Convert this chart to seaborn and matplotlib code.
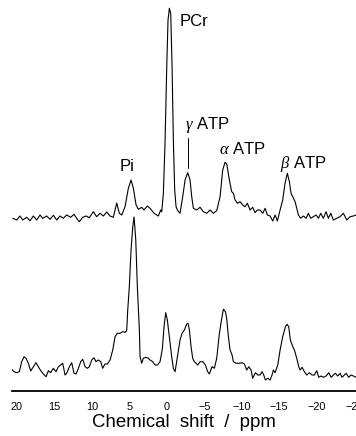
import matplotlib
matplotlib.use("Agg")
import matplotlib.pyplot as plt
import seaborn as sns
import pandas as pd

# ---- data: chemical shift (ppm) and intensity (a.u.) ----
top_ppm = [20.54, 20.00, 19.56, 19.20, 18.67, 18.23, 17.78, 17.34, 16.89, 16.54,
           16.00, 15.56, 15.11, 14.67, 14.23, 13.78, 13.34, 12.80, 12.36, 11.92,
           11.65, 11.20, 10.76, 10.32, 9.78, 9.34, 8.89, 8.45, 8.00, 7.56,
           7.12, 6.67, 6.32, 6.00, 5.56, 5.12, 4.76, 4.45, 4.09, 3.78,
           3.34, 3.03, 2.58, 2.23, 1.69, 1.12, 0.80, 0.67, 0.45, 0.23,
           0.00, -0.17, -0.35, -0.53, -0.71, -0.88, -1.06, -1.24, -1.46, -1.77,
           -2.13, -2.44, -2.80, -3.11, -3.33, -3.55, -4.00, -4.44, -4.88, -5.33,
           -5.77, -6.22, -6.66, -7.11, -7.46, -7.77, -8.00, -8.35, -8.66, -8.88,
           -9.11, -9.42, -9.77, -10.13, -10.44, -10.75, -11.11, -11.46, -11.77, -12.08,
           -12.44, -12.80, -13.11, -13.42, -13.77, -14.13, -14.44, -14.75, -15.11, -15.46,
           -15.77, -16.08, -16.35, -16.57, -16.80, -17.11, -17.33, -17.55, -17.86, -18.22,
           -18.57, -18.88, -19.20, -19.55, -19.91, -20.22, -20.53, -20.88, -21.24, -21.55,
           -21.86, -22.22, -22.66, -23.11, -23.55, -24.00, -24.44, -24.88, -25.24]
top_int = [-1.3, -3.0, 1.0, -3.0, -0.3, -3.7, 1.0, -3.0, 2.0, -1.3,
           1.0, -2.3, 1.7, -3.0, 1.0, -1.3, 2.0, -0.3, 2.7, -2.3,
           -4.7, -0.3, 1.0, -0.7, 5.3, 0.3, 3.7, 1.0, 5.0, 1.0,
           -0.3, 14.0, 3.7, 2.0, 10.3, 28.7, 37.0, 28.7, 12.0, 7.7,
           9.7, 7.0, 11.0, 8.7, 3.7, 1.0, 7.0, 5.3, 23.7, 73.7,
           150.3, 197.0, 208.7, 203.7, 150.3, 77.0, 27.0, 10.3, 6.3, 3.7,
           20.3, 37.0, 44.3, 37.0, 20.3, 8.7, 7.0, 9.7, 5.3, 3.7,
           7.0, 3.7, 6.3, 20.3, 47.0, 54.7, 53.0, 37.0, 25.3, 23.7,
           17.0, 13.7, 15.3, 12.0, 10.3, 13.7, 7.0, 9.7, 4.3, 7.0,
           7.0, 3.7, 8.7, 2.0, 1.0, -4.0, 2.0, -4.0, 7.0, 17.0,
           33.7, 43.7, 35.3, 23.7, 20.3, 15.3, 8.7, 2.0, -1.3, 1.0,
           -1.3, 3.7, -1.3, 0.3, 2.0, -1.3, 3.7, -1.3, 5.3, -1.3,
           3.7, -3.0, -1.3, 0.3, 3.7, -3.0, 0.3, 1.0, 2.0]

bot_ppm = [20.67, 20.36, 20.00, 19.65, 19.34, 19.03, 18.76, 18.45, 18.14, 17.78,
           17.43, 17.12, 16.80, 16.45, 16.09, 15.78, 15.47, 15.12, 14.76, 14.45,
           14.14, 13.87, 13.56, 13.34, 12.98, 12.67, 12.36, 12.09, 11.78, 11.47,
           11.20, 10.89, 10.58, 10.32, 10.00, 9.69, 9.43, 9.12, 8.80, 8.54,
           8.23, 7.92, 7.56, 7.20, 6.89, 6.58, 6.23, 5.87, 5.56, 5.34,
           5.20, 4.99, 4.76, 4.53, 4.36, 4.13, 3.92, 3.65, 3.56, 3.34,
           3.12, 2.76, 2.45, 2.23, 1.87, 1.56, 1.25, 0.89, 0.58, 0.36,
           0.14, -0.08, -0.35, -0.66, -0.88, -1.11, -1.46, -1.77, -2.04, -2.35,
           -2.66, -2.84, -3.02, -3.24, -3.46, -3.68, -3.91, -4.13, -4.44, -4.80,
           -5.15, -5.46, -5.68, -6.04, -6.35, -6.66, -7.02, -7.33, -7.55, -7.82,
           -7.99, -8.22, -8.44, -8.71, -8.88, -9.24, -9.68, -10.04, -10.35, -10.66,
           -10.93, -11.24, -11.46, -11.82, -12.13, -12.44, -12.71, -12.93, -13.15, -13.46,
           -13.77, -14.04, -14.22, -14.44, -14.80, -15.11, -15.46, -15.82, -16.04, -16.26,
           -16.48, -16.80, -17.02, -17.33, -17.60, -17.77, -18.04, -18.35, -18.66, -19.02,
           -19.37, -19.68, -20.00, -20.26, -20.57, -20.88, -21.24, -21.60, -21.91, -22.22,
           -22.48, -22.80, -23.11, -23.37, -23.68, -23.91, -24.26, -24.57, -24.88, -25.24]
bot_int = [0.7, -1.7, -2.7, -1.7, 8.3, 13.3, 11.7, 6.7, -1.0, 3.3,
           7.3, 3.3, -0.7, -4.0, -6.7, -0.7, -2.7, 1.7, -1.7, 3.3,
           5.0, 6.7, -5.0, -3.3, 3.3, 7.3, -3.3, -4.0, 1.7, 8.3,
           10.7, 3.3, 1.7, 3.3, 10.0, 12.3, 8.3, 10.0, 8.3, 1.7,
           6.0, 6.0, 10.0, 20.0, 33.3, 36.7, 36.7, 38.3, 37.7, 39.3,
           60.0, 83.3, 120.0, 143.3, 153.0, 130.0, 83.3, 40.0, 13.3, 6.7,
           11.7, 12.7, 11.7, 10.0, 8.3, 5.0, 5.0, 8.3, 21.7, 43.3,
           57.3, 50.0, 33.3, 13.3, 1.7, -1.7, 15.0, 30.0, 36.7, 40.0,
           46.0, 46.7, 40.0, 23.3, 11.7, 8.3, 6.7, 5.0, 8.3, 8.3,
           5.0, -1.7, -4.0, 3.3, 1.7, 11.7, 36.7, 51.7, 60.7, 58.3,
           51.7, 33.3, 20.0, 15.0, 8.3, 6.7, 6.7, 7.3, 6.0, 0.0,
           3.3, 0.0, -8.3, -2.7, -5.0, -5.0, -1.7, -5.0, -10.0, -8.3,
           -10.0, -5.0, 0.0, -2.7, 5.0, 20.0, 33.3, 43.3, 45.7, 43.3,
           30.0, 23.3, 20.0, 11.7, 3.3, 0.0, 2.7, -1.7, -5.0, -2.7,
           -5.0, -5.0, -0.7, -7.3, -6.0, -7.3, -6.0, -2.7, -7.3, -5.0,
           -3.3, -6.0, -3.3, -7.3, -5.0, -3.3, -7.3, -5.0, -6.0, -7.3]

top_offset = 153.0

peak_labels = ["Pi", "PCr", r"$\gamma$ ATP", r"$\alpha$ ATP", r"$\beta$ ATP"]
label_ppm = [5.23, -3.57, -5.44, -10.1, -18.24]
label_y = [203.5, 349.0, 245.0, 221.5, 206.5]

xticks = [20, 15, 10, 5, 0, -5, -10, -15, -20, -25]

df = pd.concat([
    pd.DataFrame({"ppm": top_ppm, "y": [v + top_offset for v in top_int], "trace": "top"}),
    pd.DataFrame({"ppm": bot_ppm, "y": bot_int, "trace": "bottom"}),
])

sns.set_theme(style="white")
plt.rcParams["font.family"] = ["Liberation Sans", "DejaVu Sans"]
plt.rcParams["mathtext.fontset"] = "custom"
plt.rcParams["mathtext.it"] = "Liberation Serif:italic"
plt.rcParams["text.color"] = "black"
plt.rcParams["axes.labelcolor"] = "black"

fig = plt.figure(figsize=(3.56, 4.36), dpi=100)
ax = fig.add_axes([12 / 356, 45 / 436, 1 - 12 / 356, 391 / 436])

sns.lineplot(data=df, x="ppm", y="y", units="trace", estimator=None, sort=False,
             color="black", linewidth=0.8, ax=ax, legend=False)

ax.set_xlim(20.63, -25.23)
ax.set_ylim(-21, 370)
for s in ["top", "left", "right"]:
    ax.spines[s].set_visible(False)
ax.spines["bottom"].set_linewidth(1.3)
ax.spines["bottom"].set_color("black")
ax.set_yticks([])
ax.set_ylabel("")
ax.set_xticks(xticks)
ax.set_xticklabels([f"{t}".replace("-", "\u2212") for t in xticks], fontsize=7.8)
ax.tick_params(axis="x", direction="out", length=3, width=0.8, pad=5, colors="black")
ax.set_xlabel("Chemical  shift  /  ppm", fontsize=13.4, labelpad=1, color="black")

for lab, xp, yp in zip(peak_labels, label_ppm, label_y):
    ax.text(xp, yp, lab, ha="center", va="center", fontsize=12, color="black")
ax.plot([-2.8, -2.8], [202, 232], color="black", linewidth=0.7)

fig.savefig("out.png", dpi=100)
